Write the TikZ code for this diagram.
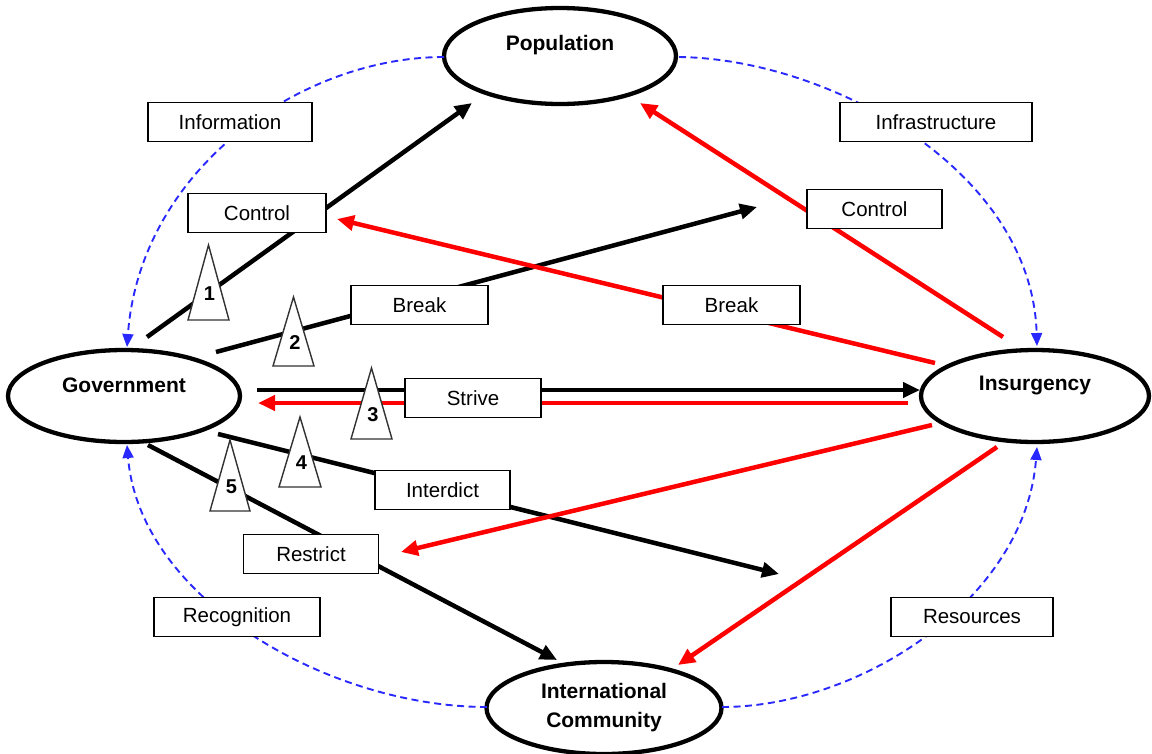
\documentclass[tikz,border=0pt]{standalone}
\usepackage{fontspec}
\setmainfont{Liberation Sans}
\usetikzlibrary{arrows.meta,shapes.geometric}
\definecolor{dblue}{RGB}{40,40,255}
\definecolor{ared}{RGB}{255,0,0}
\definecolor{trigray}{RGB}{50,50,50}
\begin{document}
\begin{tikzpicture}[x=1pt,y=-1pt,
  actor/.style={draw, ellipse, line width=4.3pt, fill=white, inner sep=0pt},
  actortext/.style={font=\fontsize{21}{29}\selectfont\bfseries, align=center, inner sep=0pt},
  labelbox/.style={draw, line width=1.7pt, fill=white, minimum height=39pt, inner sep=0pt, font=\fontsize{20.5}{24}\selectfont},
  blk/.style={line width=4.5pt, -{Triangle[length=17pt,width=15pt]}},
  redarr/.style={blk, color=ared},
  link/.style={draw=dblue, line width=1.9pt, dash pattern=on 7pt off 4.5pt, -{Triangle[length=13pt,width=11pt]}},
  tri/.style={draw=trigray, line width=1.4pt, fill=white, line join=miter},
  num/.style={font=\fontsize{20}{22}\selectfont\bfseries, inner sep=0pt}
]
\useasboundingbox (0,0) rectangle (1152,753);

% actors
\node[actor, minimum width=232pt, minimum height=92pt] (gov) at (124,396) {};
\node[actortext] (govt) at (124,385) {Government};
\node[actor, minimum width=228pt, minimum height=92pt] (ins) at (1035,396) {};
\node[actortext] (inst) at (1035,385) {Insurgency};
\node[actor, minimum width=232pt, minimum height=96pt] (pop) at (560,56) {};
\node[actortext] (popt) at (560,45) {Population};
\node[actor, minimum width=235pt, minimum height=92pt] (intl) at (604,708) {};
\node[actortext] (intlt) at (604,707.5) {International\\Community};

% connector end points
\coordinate (popL) at (444,57);
\coordinate (popR) at (679,57);
\coordinate (intlL) at (487,707);
\coordinate (intlR) at (722,707);
\coordinate (govN) at (127,347);
\coordinate (govS) at (127,445);
\coordinate (insN) at (1037,346);
\coordinate (insS) at (1037,447);

\coordinate (a1s) at (147,337);  \coordinate (a1e) at (472,103);
\coordinate (a2s) at (216,352);  \coordinate (a2e) at (757,207);
\coordinate (a3s) at (257,390);  \coordinate (a3e) at (920,390);
\coordinate (a4s) at (218,434);  \coordinate (a4e) at (779,574);
\coordinate (a5s) at (148,445);  \coordinate (a5e) at (557,660);
\coordinate (r1s) at (1003,337); \coordinate (r1e) at (640,103);
\coordinate (r2s) at (935,363);  \coordinate (r2e) at (337,219);
\coordinate (r3s) at (908,403);  \coordinate (r3e) at (258,403);
\coordinate (r4s) at (932,425);  \coordinate (r4e) at (401,552);
\coordinate (r5s) at (997,447);  \coordinate (r5e) at (678,665);

% blue dashed links
\draw[link] (popL) .. controls (300,57) and (140,170) .. (govN);
\draw[link] (popR) .. controls (830,59) and (1032,170) .. (insN);
\draw[link] (intlL) .. controls (330,707) and (140,600) .. (govS);
\draw[link] (intlR) .. controls (860,707) and (1025,600) .. (insS);

% black arrows
\draw[blk] (a1s) -- (a1e);
\draw[blk] (a2s) -- (a2e);
\draw[blk] (a3s) -- (a3e);
\draw[blk] (a4s) -- (a4e);
\draw[blk] (a5s) -- (a5e);

% red arrows
\draw[redarr] (r1s) -- (r1e);
\draw[redarr] (r2s) -- (r2e);
\draw[redarr] (r3s) -- (r3e);
\draw[redarr] (r4s) -- (r4e);
\draw[redarr] (r5s) -- (r5e);

% label boxes
\node[labelbox, minimum width=164pt] (info) at (230,122) {Information};
\node[labelbox, minimum width=192pt] (infra) at (936,122) {Infrastructure};
\node[labelbox, minimum width=138pt] (ctrlL) at (257,213) {Control};
\node[labelbox, minimum width=135pt] (ctrlR) at (874.5,209) {Control};
\node[labelbox, minimum width=137pt] (brkL) at (419.5,305) {Break};
\node[labelbox, minimum width=137pt] (brkR) at (731.5,305) {Break};
\node[labelbox, minimum width=136pt] (strive) at (473,398) {Strive};
\node[labelbox, minimum width=135pt] (inter) at (442.5,490) {Interdict};
\node[labelbox, minimum width=135pt] (restr) at (311,554) {Restrict};
\node[labelbox, minimum width=166pt] (recog) at (237,617) {Recognition};
\node[labelbox, minimum width=162pt] (resrc) at (972,617) {Resources};

% numbered triangles
\draw[tri] (208.5,245) -- (229,320) -- (188,320) -- cycle;
\node[num] (n1) at (209.5,294) {1};
\draw[tri] (293.5,297) -- (314,366) -- (273,366) -- cycle;
\node[num] (n2) at (295,343) {2};
\draw[tri] (371.5,368) -- (392,439) -- (351,439) -- cycle;
\node[num] (n3) at (373,415) {3};
\draw[tri] (300,417) -- (321,487) -- (279,487) -- cycle;
\node[num] (n4) at (301.5,463) {4};
\draw[tri] (230,440) -- (250,511) -- (210,511) -- cycle;
\node[num] (n5) at (231.5,487) {5};
\end{tikzpicture}
\end{document}
